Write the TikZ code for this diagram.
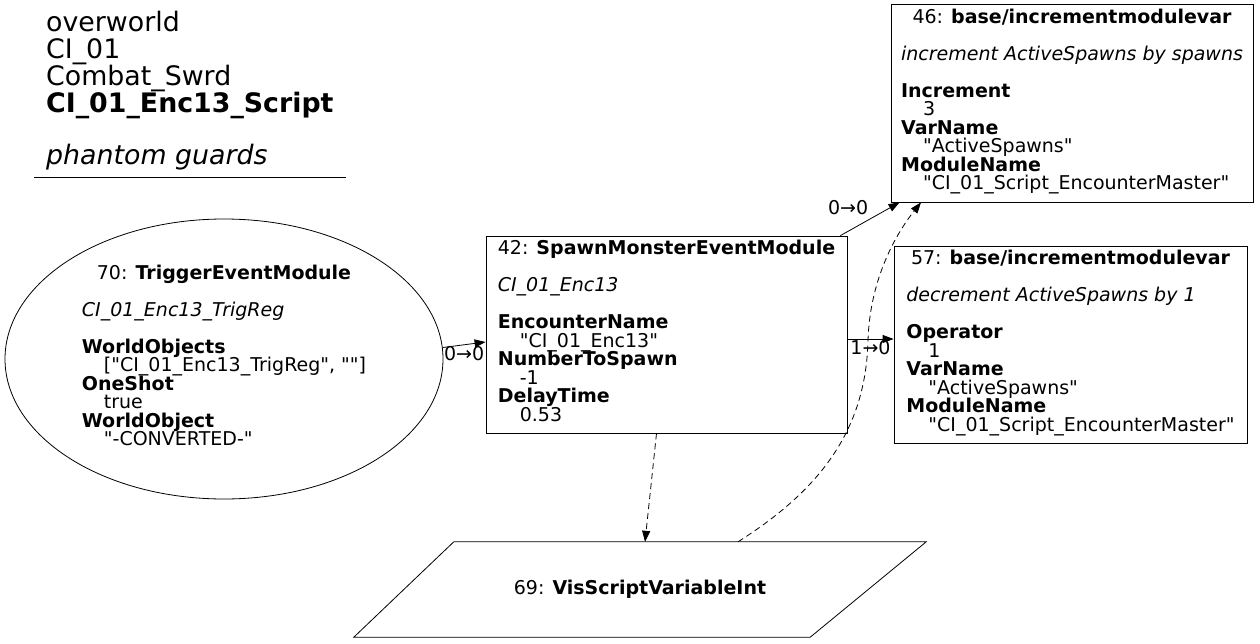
\documentclass[tikz,border=0pt]{standalone}
\usepackage{fontspec}
\usepackage{array}
\setmainfont{DejaVu Sans}[Ligatures=TeXOff]
\usetikzlibrary{shapes.geometric,arrows.meta}

\newcommand{\ind}{\hspace*{22pt}}
\newcommand{\nodefont}{\fontsize{19}{18.5}\selectfont}
\newcolumntype{L}{>{\setbox0=\hbox\bgroup}l<{\egroup\smash{\box0}}}

\tikzset{
	box/.style = {draw, rectangle, inner sep=0pt, line width=0.8pt, font=\nodefont},
	trig/.style = {draw, ellipse, inner sep=0pt, line width=0.8pt, minimum width=438pt, minimum height=280pt, font=\nodefont},
	vis/.style = {rectangle, inner sep=0pt, minimum width=572pt, minimum height=95pt, font=\nodefont},
	link/.style = {-{Triangle[length=11pt, width=8pt]}, line width=0.8pt},
	dlink/.style = {link, dash pattern=on 6pt off 4pt},
	port/.style = {font=\nodefont, inner sep=1pt}
}

\begin{document}
\begin{tikzpicture}[x=1pt, y=-1pt]
			\useasboundingbox (0,0) rectangle (1260,644);
			% header
			\node[anchor=north west, align=left, inner sep=0pt, font=\fontsize{26.8}{27}\selectfont] (hdr) at (46,11)
				{overworld\\CI\_01\\Combat\_Swrd\\\textbf{CI\_01\_Enc13\_Script}\\[25pt]\textit{phantom guards}};
			\draw[line width=0.8pt] (34,177) -- (346,177);
			% nodes
			\node[trig] (t70) at (224,359) {\begin{tabular}{@{}L@{}}
				\multicolumn{1}{@{}c@{}}{\smash{70: \textbf{TriggerEventModule}}}\\ \\
				\textit{CI\_01\_Enc13\_TrigReg}\\ \\
				\textbf{WorldObjects}\\
				\ind["CI\_01\_Enc13\_TrigReg", ""]\\
				\textbf{OneShot}\\
				\ind true\\
				\textbf{WorldObject}\\
				\ind"-CONVERTED-"
			\end{tabular}};
			\node[box, minimum width=361pt, minimum height=197pt] (b42) at (666.5,334.5) {\begin{tabular}{@{}L@{}}
				\multicolumn{1}{@{}c@{}}{\smash{42: \textbf{SpawnMonsterEventModule}}}\\ \\
				\textit{CI\_01\_Enc13}\\ \\
				\textbf{EncounterName}\\
				\ind"CI\_01\_Enc13"\\
				\textbf{NumberToSpawn}\\
				\ind -1\\
				\textbf{DelayTime}\\
				\ind 0.53
			\end{tabular}};
			\node[box, minimum width=362pt, minimum height=198pt] (b46) at (1072,103) {\begin{tabular}{@{}L@{}}
				\multicolumn{1}{@{}c@{}}{\smash{46: \textbf{base/incrementmodulevar}}}\\ \\
				\textit{increment ActiveSpawns by spawns}\\ \\
				\textbf{Increment}\\
				\ind 3\\
				\textbf{VarName}\\
				\ind"ActiveSpawns"\\
				\textbf{ModuleName}\\
				\ind"CI\_01\_Script\_EncounterMaster"
			\end{tabular}};
			\node[box, minimum width=353pt, minimum height=197pt] (b57) at (1070.5,344.5) {\begin{tabular}{@{}L@{}}
				\multicolumn{1}{@{}c@{}}{\smash{57: \textbf{base/incrementmodulevar}}}\\ \\
				\textit{decrement ActiveSpawns by 1}\\ \\
				\textbf{Operator}\\
				\ind 1\\
				\textbf{VarName}\\
				\ind"ActiveSpawns"\\
				\textbf{ModuleName}\\
				\ind"CI\_01\_Script\_EncounterMaster"
			\end{tabular}};
			\node[vis] (v69) at (640,589.5) {69: \textbf{VisScriptVariableInt}};
			\draw[line width=0.8pt] (v69.south west) -- ([xshift=100pt]v69.north west) -- (v69.north east)
				-- ([xshift=-116pt]v69.south east) -- cycle;
			% connectors
			\draw[link] (t70.3) -- node[port, below] {0→0} ([yshift=-7.5pt]b42.west);
			\draw[link] ([yshift=-4.5pt]b42.east) -- node[port, below] {1→0} ([yshift=5.5pt]b57.west);
			\draw[link] ([xshift=-7pt]b42.north east) -- node[port, pos=0.3, xshift=-10pt, yshift=18pt] {0→0} ([xshift=9pt]b46.south west);
			\draw[dlink] ([xshift=-10pt]b42.south) -- ([xshift=5pt]v69.north);
			\draw[dlink] ([xshift=98pt]v69.north) .. controls (820,490) and (866,430) .. (868,340)
				.. controls (870,280) and (895,235) .. ([xshift=-151pt]b46.south);
\end{tikzpicture}
\end{document}
